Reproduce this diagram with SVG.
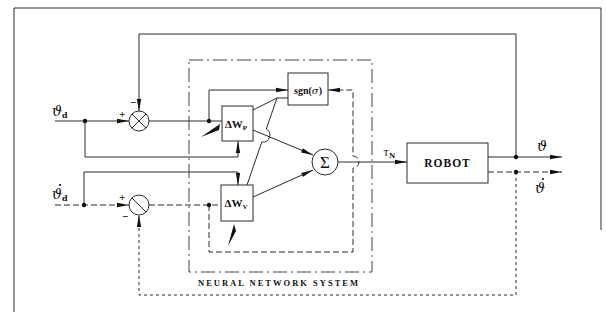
<svg xmlns="http://www.w3.org/2000/svg" width="606" height="321" viewBox="0 0 606 321">
<style>
.ln{fill:none;stroke:#2a2a2a;stroke-width:1}
.dash{stroke-dasharray:6 3}
.dot{stroke-dasharray:3 3}
.box{fill:#fff;stroke:#2a2a2a;stroke-width:1}
.nn{fill:none;stroke:#444;stroke-width:1;stroke-dasharray:14 4 2 4}
.t{font-family:"Liberation Serif","DejaVu Serif",serif;font-weight:bold;fill:#111}
.s{font-family:"DejaVu Serif","Liberation Serif",serif;font-style:italic;fill:#111}
.jn{fill:#111}
</style>
<defs>
<marker id="ar" viewBox="0 0 12 6" refX="12" refY="3" markerWidth="12" markerHeight="6" markerUnits="userSpaceOnUse" orient="auto">
<path d="M0,0.8 L12,3 L0,5.2 Z" fill="#111"/>
</marker>
</defs>

<g id="frame">
<path class="ln" d="M14,312 V8 H601 V230"/>
</g>

<g id="nn-system">
<rect class="nn" x="189" y="60" width="183" height="212"/>
<text class="t" x="198" y="286" font-size="8.5" textLength="160">NEURAL NETWORK SYSTEM</text>
</g>

<g id="connectors">
<path class="ln" d="M516,157 V34 H139 V111" marker-end="url(#ar)"/>
<path class="ln" d="M55,121 H129" marker-end="url(#ar)"/>
<path class="ln" d="M149,121 H222"/>
<path class="ln" d="M85,121 V157 H238 V141" marker-end="url(#ar)"/>
<path class="ln" d="M209,121 V90 H288" marker-end="url(#ar)"/>
<path class="ln dash" d="M55,205 H129" marker-end="url(#ar)"/>
<path class="ln dash" d="M149,205 H221"/>
<path class="ln" d="M84,205 V172 H238 V185" marker-end="url(#ar)"/>
<path class="ln dash" d="M209,205 V252 H353 V168 A6,6 0 0 0 353,156 V90 H328" marker-end="url(#ar)"/>
<path class="ln" d="M288,98 L277,98 L253,110"/>
<path class="ln" d="M277,98 L266.3,129 A7,7 0 0 1 261.8,142 L247,185"/>
<path class="ln" d="M253,130 L313,155" marker-end="url(#ar)"/>
<path class="ln" d="M253,197 L313,170" marker-end="url(#ar)"/>
<path class="ln" d="M338,162 H407" marker-end="url(#ar)"/>
<path class="ln" d="M488,157 H562" marker-end="url(#ar)"/>
<path class="ln dash" d="M488,172 H562" marker-end="url(#ar)"/>
<path class="ln dot" d="M516,172 V295 H139 V215" marker-end="url(#ar)"/>
<path class="jn" d="M201,137 L220,124 L219,130 Z"/>
<path class="jn" d="M228,246 L234,224 L236,231 Z"/>
<circle class="jn" cx="85" cy="121" r="2.2"/>
<circle class="jn" cx="209" cy="121" r="2.2"/>
<circle class="jn" cx="84" cy="205" r="2.2"/>
<circle class="jn" cx="209" cy="205" r="2.2"/>
<circle class="jn" cx="516" cy="157" r="2.2"/>
<circle class="jn" cx="516" cy="172" r="2.2"/>
</g>

<g id="sum-upper">
<circle class="box" cx="139" cy="121" r="10"/>
<path class="ln" d="M132,114 L146,128 M146,114 L132,128" stroke-width="0.6"/>
<text class="t" x="119" y="118" font-size="11">+</text>
<text class="t" x="130" y="106" font-size="11">−</text>
</g>

<g id="sum-lower">
<circle class="box" cx="139" cy="205" r="10"/>
<path class="ln" d="M132,198 L146,212" stroke-width="0.6"/>
<text class="t" x="119" y="201" font-size="11">+</text>
<text class="t" x="122" y="220" font-size="11">−</text>
</g>

<g id="dWp">
<rect class="box" x="222" y="106" width="31" height="35"/>
<text class="t" x="236" y="128" font-size="11" text-anchor="middle">ΔW<tspan font-size="7" dy="2">P</tspan></text>
</g>

<g id="dWv">
<rect class="box" x="221" y="185" width="32" height="36"/>
<text class="t" x="236" y="207" font-size="11" text-anchor="middle">ΔW<tspan font-size="7" dy="2">V</tspan></text>
</g>

<g id="sgn">
<rect class="box" x="288" y="73" width="40" height="32"/>
<text class="t" x="308" y="94" font-size="10" text-anchor="middle">sgn(<tspan class="s" font-weight="normal">σ</tspan>)</text>
</g>

<g id="sigma">
<circle class="box" cx="325" cy="162" r="13"/>
<text x="325" y="168" font-size="17" text-anchor="middle" font-family="'Liberation Serif','DejaVu Serif',serif" fill="#111">Σ</text>
</g>

<g id="robot">
<rect class="box" x="407" y="143" width="81" height="40"/>
<text class="t" x="447.5" y="167" font-size="11.5" text-anchor="middle" letter-spacing="1">ROBOT</text>
</g>

<g id="labels">
<text class="s" x="52" y="116" font-size="14">ϑ<tspan font-size="8" dy="2" font-style="normal" font-weight="bold">d</tspan></text>
<text class="s" x="52" y="199" font-size="14">ϑ<tspan font-size="8" dy="2" font-style="normal" font-weight="bold">d</tspan></text>
<circle class="jn" cx="60" cy="185" r="1.1"/>
<text class="s" x="383" y="156" font-size="11">τ<tspan font-size="7" dy="2" font-style="normal" font-weight="bold">N</tspan></text>
<text class="s" x="537" y="151" font-size="14">ϑ</text>
<text class="s" x="535" y="193" font-size="14">ϑ</text>
<circle class="jn" cx="543" cy="179" r="1.1"/>
</g>
</svg>
